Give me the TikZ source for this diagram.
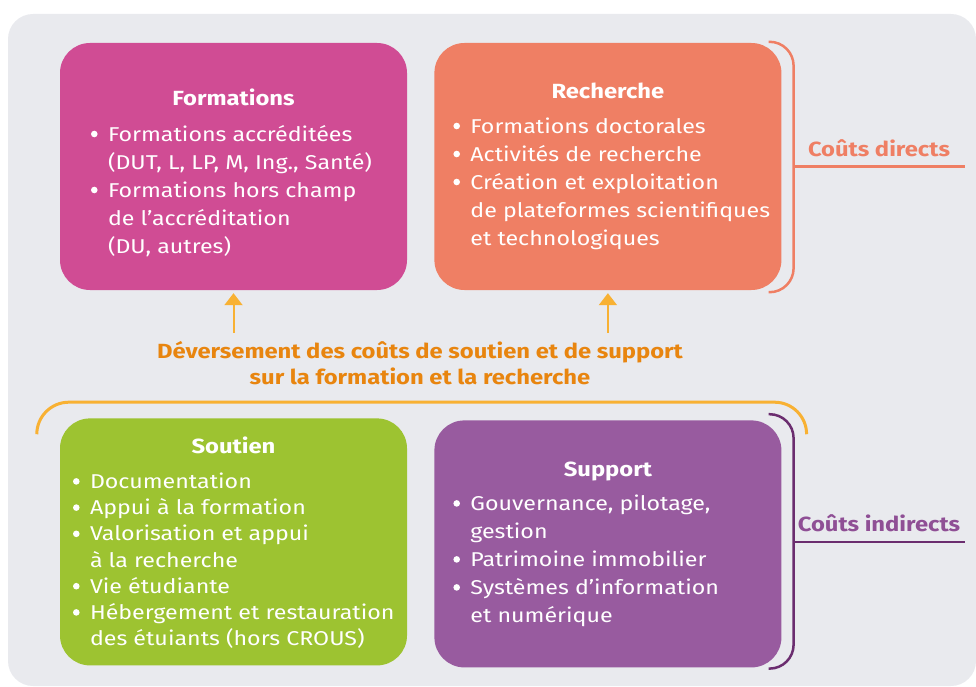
\documentclass[tikz,border=0pt]{standalone}
\usepackage{fontspec}
\setmainfont{Fira Sans}[FakeStretch=1.16]
\usetikzlibrary{arrows.meta, positioning, calc, backgrounds}
\definecolor{panel}{RGB}{233,234,238}
\definecolor{formations}{RGB}{208,76,148}
\definecolor{recherche}{RGB}{239,127,100}
\definecolor{soutien}{RGB}{157,195,49}
\definecolor{support}{RGB}{152,91,159}
\definecolor{fleche}{RGB}{248,177,51}
\definecolor{deversement}{RGB}{232,133,15}
\definecolor{indirect}{RGB}{107,45,111}
\definecolor{indirecttxt}{RGB}{143,79,149}
\newcommand{\puce}{\rule{0pt}{20pt}\makebox[18pt][l]{\hspace{1pt}\tikz[baseline=0pt]\fill[white] (0,7pt) circle (3.3pt);}}
\newcommand{\suite}{\hspace*{18pt}}

\begin{document}
\begin{tikzpicture}[x=1pt, y=-1pt, node distance = 27pt, auto]
\tikzstyle{block} = [rectangle, rounded corners=30pt, minimum width=347pt,
    minimum height=247pt, inner sep=0pt]
\tikzstyle{head} = [font=\fontsize{20.5}{24}\selectfont\bfseries, text=white,
    anchor=base, inner sep=0pt]
\tikzstyle{items} = [font=\fontsize{20}{28}\selectfont, text=white, align=left,
    inner sep=0pt]
\tikzstyle{cost} = [font=\fontsize{20.5}{24}\selectfont\bfseries, anchor=base, inner sep=0pt]
\tikzstyle{flow} = [draw=fleche, line width=2pt, -{Triangle[width=18pt, length=12pt]},
    shorten >=3pt]
\tikzstyle{brace} = [line width=2.5pt, rounded corners=24pt]
    % background
    \useasboundingbox (0,0) rectangle (976,687);
    \fill[panel, rounded corners=25pt] (8,14) rectangle (976,686);

    % Place nodes
    \node [block, fill=formations] (formations) at (233.5,166.5) {};
    \node [block, fill=recherche, right=of formations] (recherche) {};
    \node [block, fill=soutien, below=128pt of formations] (soutien) {};
    \node [block, fill=support, right=of soutien, yshift=-2pt] (support) {};

    \node [head] (formations-head) at ($(formations.north)+(0,63)$) {Formations};
    \node [head] (recherche-head) at ($(recherche.north)+(0,56)$) {Recherche};
    \node [head] (soutien-head) at ($(soutien.north)+(0,35)$) {Soutien};
    \node [head] (support-head) at ($(support.north)+(0,56)$) {Support};

    \node [items, below right=78pt and 30pt of formations.north west] (formations-list)
        {\puce Formations accréditées\\
         \suite (DUT, L, LP, M, Ing., Santé)\\
         \puce Formations hors champ\\
         \suite de l’accréditation\\
         \suite (DU, autres)};
    \node [items, below right=70pt and 18pt of recherche.north west] (recherche-list)
        {\puce Formations doctorales\\
         \puce Activités de recherche\\
         \puce Création et exploitation\\
         \suite de plateformes scientifiques\\
         \suite et technologiques};
    \node [items, font=\fontsize{20}{26.2}\selectfont,
        below right=50pt and 12pt of soutien.north west] (soutien-list)
        {\puce Documentation\\
         \puce Appui à la formation\\
         \puce Valorisation et appui\\
         \suite à la recherche\\
         \puce Vie étudiante\\
         \puce Hébergement et restauration\\
         \suite des étuiants (hors CROUS)};
    \node [items, below right=70pt and 18pt of support.north west] (support-list)
        {\puce Gouvernance, pilotage,\\
         \suite gestion\\
         \puce Patrimoine immobilier\\
         \puce Systèmes d’information\\
         \suite et numérique};

    \node [align=center, font=\fontsize{20.5}{26}\selectfont\bfseries, text=deversement,
        inner sep=0pt, outer ysep=7pt, anchor=north] (deversement) at (420,333)
        {\rule{0pt}{18pt}Déversement des coûts de soutien et de support\\
         sur la formation et la recherche};

    \node [cost, text=recherche] (directs) at (879,157) {Coûts directs};
    \node [cost, text=indirecttxt] (indirects) at (879,531) {Coûts indirects};

%paths
    \draw [flow] (deversement.north -| formations.south) -- (formations.south);
    \draw [flow] (deversement.north -| recherche.south) -- (recherche.south);

    \draw [fleche, line width=3pt, rounded corners=32pt]
        ($(soutien.north west)+(-23,15)$) -- ($(soutien.north west)+(-23,-16)$)
        -- ($(support.north east)+(25,-18)$) -- ($(support.north east)+(25,13)$);

    \draw [brace, recherche] ($(recherche.north east)+(-13,-1)$) -- ++(25,0)
        -- ($(recherche.south east)+(12,2)$) -- ++(-25,0);
    \draw [recherche, line width=2.5pt] ($(recherche.east)+(12,0)$) -- ++(171,0);

    \draw [brace, indirect] ($(support.north east)+(-13,-6)$) -- ++(25,0)
        -- ($(support.south east)+(12,1)$) -- ++(-25,0);
    \draw [indirect, line width=2.5pt] ($(support.east)+(12,-2)$) -- ++(171,0);

\end{tikzpicture}
\end{document}
